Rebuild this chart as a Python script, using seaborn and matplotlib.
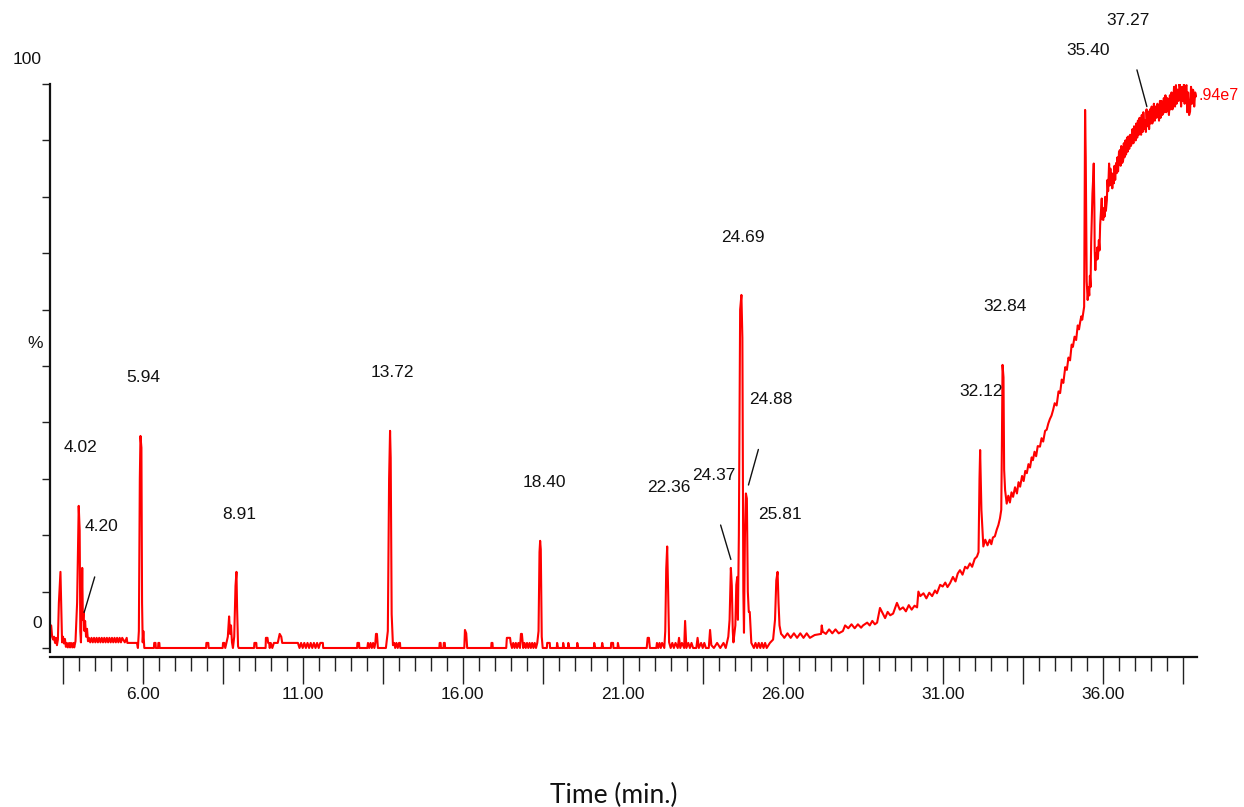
import numpy as np
import pandas as pd
import matplotlib.pyplot as plt
import seaborn as sns

# retention time (min) / relative intensity (%)
time_a = [3.10, 3.14, 3.17, 3.20, 3.23, 3.26, 3.29, 3.32, 3.35, 3.38, 3.43, 3.46, 3.48, 3.51,
          3.54, 3.57, 3.60, 3.63, 3.66, 3.70, 3.73, 3.76, 3.80, 3.83, 3.86, 3.90, 3.95, 4.00,
          4.03, 4.05, 4.07, 4.09, 4.11, 4.13, 4.15, 4.18, 4.20, 4.23, 4.26, 4.29]
int_a = [4.0, 4.0, 2.0, 1.5, 2.0, 0.9, 1.8, 0.5, 1.5, 8.0, 13.5, 6.0, 1.0, 2.0,
         0.8, 1.6, 0.2, 0.9, 0.1, 0.9, 0.1, 0.9, 0.1, 0.9, 0.1, 1.2, 8.0, 25.2,
         21.0, 3.0, 1.0, 6.0, 14.2, 5.0, 6.3, 3.0, 4.8, 2.0, 3.4, 1.2]

time_b = [4.32, 4.36, 4.40, 4.44, 4.48, 4.52, 4.56, 4.60, 4.64, 4.68, 4.72, 4.76, 4.80, 4.84,
          4.88, 4.92, 4.96, 5.00, 5.04, 5.08, 5.12, 5.16, 5.20, 5.24, 5.28, 5.32, 5.36, 5.44,
          5.50, 5.52, 5.82, 5.85, 5.88, 5.91, 5.93, 5.96, 5.98, 6.00, 6.02, 6.05]
int_b = [1.8, 1.0, 1.8, 1.0, 1.8, 1.0, 1.8, 1.0, 1.8, 1.0, 1.8, 1.0, 1.8, 1.0,
         1.8, 1.0, 1.8, 1.0, 1.8, 1.0, 1.8, 1.0, 1.8, 1.0, 1.8, 1.0, 1.8, 1.0,
         1.8, 0.9, 0.9, 0.0, 3.0, 30.0, 37.6, 35.5, 8.0, 1.0, 3.0, 0.0]

time_c = [6.35, 6.36, 6.40, 6.41, 6.48, 6.49, 6.52, 6.53, 7.98, 7.99, 8.05, 8.06, 8.50, 8.51,
          8.55, 8.58, 8.62, 8.66, 8.70, 8.73, 8.76, 8.79, 8.82, 8.86, 8.90, 8.93, 8.95, 8.98,
          9.00, 9.48, 9.49, 9.55, 9.56, 9.84, 9.85, 9.90, 9.92, 9.95, 9.97, 10.00, 10.05, 10.10,
          10.13, 10.17, 10.22, 10.28, 10.33, 10.36, 10.85, 10.90, 10.95, 11.00, 11.05, 11.10,
          11.15, 11.20, 11.25, 11.30, 11.35, 11.40, 11.45, 11.50, 11.55, 11.63, 11.64]
int_c = [0.0, 0.9, 0.9, 0.0, 0.0, 0.9, 0.9, 0.0, 0.0, 0.9, 0.9, 0.0, 0.0, 0.9,
         0.9, 0.0, 1.0, 2.0, 5.6, 2.5, 4.0, 1.0, 0.0, 2.0, 11.0, 13.5, 7.0, 0.3,
         0.0, 0.0, 0.9, 0.9, 0.0, 0.0, 1.8, 1.8, 0.9, 0.9, 0.0, 0.9, 0.0, 0.9,
         0.9, 0.9, 0.9, 2.5, 2.0, 0.9, 0.9, 0.0, 0.9, 0.0, 0.9, 0.0,
         0.9, 0.0, 0.9, 0.0, 0.9, 0.0, 0.9, 0.0, 0.9, 0.9, 0.0]

time_d = [12.70, 12.71, 12.76, 12.77, 13.02, 13.04, 13.08, 13.12, 13.16, 13.20, 13.24, 13.27,
          13.29, 13.32, 13.35, 13.60, 13.66, 13.70, 13.73, 13.75, 13.78, 13.82, 13.86, 13.89,
          13.93, 13.97, 14.01, 14.04, 14.05, 15.27, 15.28, 15.31, 15.32, 15.40, 15.41, 15.44,
          15.45, 16.05, 16.07, 16.11, 16.14, 16.89, 16.90, 16.93, 16.94, 17.36, 17.38, 17.48,
          17.50, 17.54, 17.58, 17.62, 17.66, 17.70, 17.74, 17.79, 17.82, 17.85, 17.89, 17.93,
          17.97, 18.01, 18.05, 18.09, 18.13, 18.17, 18.21, 18.25, 18.29, 18.33, 18.37, 18.40,
          18.42, 18.44, 18.47, 18.50, 18.63, 18.64, 18.72, 18.73, 18.94, 18.95, 18.98, 19.13,
          19.14, 19.17, 19.29, 19.30, 19.33, 19.57, 19.58, 19.61, 20.10, 20.11, 20.14, 20.34,
          20.36, 20.39, 20.63, 20.64, 20.70, 20.71, 20.84, 20.85, 20.88]
int_d = [0.0, 0.9, 0.9, 0.0, 0.0, 0.9, 0.0, 0.9, 0.0, 0.9, 0.0, 0.9,
         2.5, 2.5, 0.0, 0.0, 3.0, 30.0, 38.5, 33.7, 6.0, 0.5, 0.9, 0.0,
         0.9, 0.0, 0.9, 0.9, 0.0, 0.0, 0.9, 0.9, 0.0, 0.0, 0.9, 0.9,
         0.0, 0.0, 3.2, 2.6, 0.0, 0.0, 0.9, 0.9, 0.0, 0.0, 1.8, 1.8,
         0.9, 0.0, 0.9, 0.0, 0.9, 0.0, 0.9, 0.0, 2.5, 2.5, 0.0, 0.9,
         0.0, 0.9, 0.0, 0.9, 0.0, 0.9, 0.0, 0.9, 0.0, 0.9, 3.0, 17.0,
         19.0, 17.5, 2.0, 0.0, 0.0, 0.9, 0.9, 0.0, 0.0, 0.9, 0.0, 0.0,
         0.9, 0.0, 0.0, 0.9, 0.0, 0.0, 0.9, 0.0, 0.0, 0.9, 0.0, 0.0,
         0.9, 0.0, 0.0, 0.9, 0.9, 0.0, 0.0, 0.9, 0.0]

time_e = [21.75, 21.78, 21.82, 21.85, 22.05, 22.07, 22.11, 22.15, 22.19, 22.23, 22.30, 22.33,
          22.36, 22.39, 22.42, 22.45, 22.50, 22.55, 22.60, 22.65, 22.72, 22.76, 22.80, 22.85,
          22.92, 22.95, 22.99, 23.05, 23.10, 23.15, 23.20, 23.30, 23.34, 23.38, 23.45, 23.50,
          23.55, 23.60, 23.69, 23.73, 23.77, 23.85, 23.95, 24.05, 24.15, 24.22, 24.30, 24.34,
          24.38, 24.41, 24.44, 24.46, 24.52, 24.55, 24.58, 24.60, 24.63, 24.67, 24.71, 24.74,
          24.77, 24.79, 24.82, 24.85, 24.88, 24.91, 24.94, 24.97, 25.00, 25.02, 25.10, 25.15,
          25.20, 25.25, 25.30, 25.35, 25.40, 25.45, 25.50, 25.60, 25.70, 25.76, 25.80, 25.84,
          25.87, 25.90, 25.95, 26.00]
int_e = [0.0, 1.8, 1.8, 0.0, 0.0, 0.9, 0.0, 0.9, 0.0, 0.9, 0.0, 3.0,
         14.0, 18.0, 10.0, 1.0, 0.0, 0.9, 0.0, 0.9, 0.0, 1.8, 0.0, 0.9,
         0.0, 4.8, 0.0, 0.9, 0.0, 0.9, 0.0, 0.0, 1.8, 0.0, 0.9, 0.0,
         0.9, 0.0, 0.0, 3.2, 0.5, 0.0, 0.9, 0.0, 0.9, 0.0, 2.0, 5.0,
         14.2, 11.0, 3.0, 1.0, 4.0, 11.2, 12.6, 5.0, 20.0, 60.0, 62.6, 55.0,
         10.0, 2.7, 20.0, 27.4, 26.5, 10.0, 6.4, 6.4, 2.9, 0.9, 0.0, 0.9,
         0.0, 0.9, 0.0, 0.9, 0.0, 0.9, 0.0, 0.9, 1.5, 5.0, 12.0, 13.5,
         8.0, 4.0, 2.5, 2.2]

time_f = [26.05, 26.15, 26.25, 26.35, 26.45, 26.55, 26.65, 26.75, 26.85, 27.00, 27.20, 27.22,
          27.25, 27.35, 27.45, 27.55, 27.65, 27.75, 27.88, 27.95, 28.05, 28.15, 28.25, 28.35,
          28.45, 28.51, 28.64, 28.72, 28.80, 28.88, 28.95, 29.04, 29.13, 29.20, 29.28, 29.36,
          29.45, 29.57, 29.66, 29.76, 29.85, 29.94, 30.03, 30.12, 30.20, 30.24, 30.30, 30.40,
          30.49, 30.58, 30.67, 30.76, 30.82, 30.92, 31.00, 31.08, 31.15, 31.23, 31.32, 31.40,
          31.47, 31.54, 31.62, 31.70, 31.77, 31.85, 31.92, 32.00, 32.07, 32.12, 32.15, 32.17,
          32.21, 32.27, 32.33, 32.40, 32.47, 32.52, 32.57, 32.63, 32.69, 32.74, 32.79, 32.83,
          32.85, 32.87, 32.90, 32.92, 32.95, 33.00, 33.05, 33.10, 33.15, 33.20, 33.26, 33.32,
          33.37, 33.42, 33.48, 33.53, 33.58, 33.63, 33.68, 33.73, 33.78, 33.82, 33.87, 33.92,
          33.97, 34.04, 34.09, 34.14, 34.20, 34.25, 34.30, 34.35, 34.40, 34.45, 34.50, 34.56,
          34.62, 34.67, 34.72, 34.77, 34.83, 34.88, 34.93, 34.98, 35.03, 35.07, 35.12, 35.17,
          35.22, 35.26, 35.29, 35.33, 35.36, 35.39, 35.42, 35.45, 35.47]
int_f = [1.8, 2.6, 1.8, 2.6, 1.8, 2.6, 1.8, 2.6, 1.8, 2.3, 2.5, 4.0,
         2.9, 2.5, 3.3, 2.6, 3.3, 2.6, 3.0, 4.0, 3.5, 4.2, 3.5, 4.2,
         3.6, 4.0, 4.5, 4.0, 4.8, 4.2, 4.5, 7.1, 6.1, 5.3, 6.4, 5.8,
         6.1, 8.0, 6.8, 7.2, 6.5, 7.6, 6.8, 7.5, 7.2, 10.0, 9.2, 9.7,
         8.8, 9.8, 9.2, 10.2, 9.7, 11.2, 10.9, 11.6, 10.8, 11.5, 12.6, 11.8,
         13.2, 13.8, 13.0, 14.4, 14.1, 15.0, 14.4, 15.8, 16.2, 17.0, 30.0, 35.1,
         24.5, 18.0, 19.2, 18.2, 19.2, 18.4, 19.6, 19.8, 21.0, 21.8, 23.0, 24.5,
         36.0, 50.2, 48.0, 31.6, 28.0, 25.6, 27.0, 25.8, 27.6, 26.8, 28.5, 27.4,
         29.4, 28.6, 30.5, 29.6, 31.4, 31.0, 32.6, 32.0, 33.8, 33.3, 34.8, 34.0,
         35.8, 35.7, 37.2, 36.6, 38.5, 38.7, 39.8, 40.6, 41.2, 42.2, 43.4, 43.0,
         45.5, 45.2, 47.6, 47.0, 49.8, 49.3, 51.5, 51.0, 53.8, 53.4, 55.2, 54.6,
         57.2, 56.5, 57.6, 58.8, 58.2, 59.4, 60.5, 95.4, 87.0]

time_g = [35.50, 35.53, 35.56, 35.58, 35.60, 35.62, 35.64, 35.66, 35.68, 35.70, 35.72, 35.74,
          35.75, 35.77, 35.79, 35.81, 35.83, 35.85, 35.88, 35.90, 35.92, 35.94, 35.97, 35.99,
          36.02, 36.04, 36.06, 36.08, 36.10, 36.13, 36.15, 36.17, 36.20, 36.22, 36.24, 36.26,
          36.28, 36.30, 36.32, 36.35, 36.37, 36.39, 36.42, 36.44, 36.46, 36.48, 36.51, 36.54,
          36.56, 36.58, 36.61, 36.64, 36.66, 36.68, 36.71, 36.73, 36.76, 36.78, 36.80, 36.83,
          36.86, 36.88, 36.91, 36.93, 36.96, 36.98, 37.01, 37.03, 37.05, 37.08, 37.10, 37.13,
          37.15, 37.17, 37.20, 37.22, 37.25, 37.27, 37.30, 37.32, 37.35, 37.37, 37.40, 37.43,
          37.45, 37.48, 37.50, 37.53, 37.55, 37.58, 37.60, 37.63, 37.65, 37.68, 37.71, 37.74,
          37.76, 37.79, 37.81, 37.84, 37.86, 37.89, 37.91, 37.94, 37.96, 37.99, 38.02, 38.05,
          38.07, 38.10, 38.12, 38.15, 38.18, 38.21, 38.23, 38.26, 38.29, 38.31, 38.34, 38.37,
          38.40, 38.42, 38.45, 38.48, 38.51, 38.54, 38.56, 38.59, 38.62, 38.64, 38.67, 38.70,
          38.73, 38.76, 38.79, 38.81, 38.83, 38.86, 38.89, 38.92]
int_g = [65.0, 61.7, 64.0, 62.5, 66.0, 64.0, 72.0, 76.0, 80.6, 83.0, 85.9, 78.0,
         70.6, 67.0, 70.0, 68.8, 71.0, 69.0, 72.3, 70.5, 75.0, 77.0, 79.7, 76.0,
         75.9, 78.0, 76.5, 80.0, 77.5, 79.4, 83.0, 81.0, 85.9, 82.0, 85.0, 82.5,
         84.2, 81.5, 84.0, 82.4, 85.5, 83.0, 86.0, 84.2, 87.0, 84.5, 88.0, 88.3,
         85.5, 89.0, 86.0, 86.5, 89.5, 87.0, 90.0, 87.5, 90.5, 88.0, 90.7, 88.5,
         91.0, 89.0, 89.5, 92.0, 89.5, 92.5, 91.5, 90.0, 93.0, 90.5, 93.5, 91.0,
         94.0, 93.0, 91.0, 94.5, 91.5, 95.0, 92.0, 93.6, 91.5, 95.5, 92.5, 95.1,
         92.0, 95.5, 93.0, 96.0, 93.0, 93.9, 96.5, 93.5, 96.0, 94.0, 96.5, 95.1,
         93.5, 97.0, 94.0, 97.0, 94.5, 94.8, 97.5, 95.0, 98.0, 95.0, 97.5, 96.9,
         94.5, 98.0, 95.5, 98.5, 95.5, 97.5, 99.5, 96.0, 99.8, 96.5, 99.0, 97.0,
         100.0, 99.2, 96.0, 99.5, 97.0, 100.0, 96.5, 99.5, 99.8, 95.0, 98.5, 94.5,
         95.1, 99.5, 96.5, 99.0, 98.9, 96.0, 98.5, 97.8]

# peak labels: text, label position (time, %)
peak_labels = ["4.02", "4.20", "5.94", "8.91", "13.72", "18.40", "22.36", "24.37",
               "24.69", "24.88", "25.81", "32.12", "32.84", "35.40", "37.27"]
label_t = [4.07, 4.70, 6.01, 9.01, 13.79, 18.54, 22.45, 23.86,
           24.76, 25.63, 25.92, 32.20, 32.95, 35.54, 36.79]
label_i = [35.5, 21.5, 47.9, 23.6, 48.8, 29.4, 28.4, 30.5,
           72.7, 44.1, 23.6, 45.4, 60.5, 105.9, 111.3]

# leader lines (t0, i0, t1, i1)
leaders = [(4.50, 12.6, 4.17, 6.3), (24.06, 21.8, 24.38, 15.7),
           (25.24, 35.2, 24.93, 28.9), (37.07, 102.5, 37.38, 96.0)]

df = pd.DataFrame({
    "time": time_a + time_b + time_c + time_d + time_e + time_f + time_g,
    "intensity": int_a + int_b + int_c + int_d + int_e + int_f + int_g,
})

W, H = 1244, 807
sns.set_style("ticks")
plt.rcParams["font.family"] = ["Liberation Sans", "DejaVu Sans"]

fig = plt.figure(figsize=(W / 100, H / 100), dpi=100)
ax = fig.add_axes([50 / W, 1 - 652 / H, (1197 - 50) / W, (652 - 84) / H])

sns.lineplot(data=df, x="time", y="intensity", ax=ax, color="#ff0000",
             linewidth=1.5, estimator=None, sort=False)

ax.set_xlim(3.103, 38.947)
ax.set_ylim(-0.71, 100)

for s in ["top", "right"]:
    ax.spines[s].set_visible(False)
ax.spines["left"].set_linewidth(1.6)
ax.spines["left"].set_color("#111111")
ax.spines["bottom"].set_linewidth(1.6)
ax.spines["bottom"].set_color("#111111")
ax.spines["bottom"].set_position(("outward", 3.6))

ax.set_yticks(np.arange(0, 101, 10))
ax.tick_params(axis="y", left=True, length=6, width=1.0, color="#222222",
               labelleft=False)

major = np.arange(3.5, 38.6, 2.5)
major_labels = [f"{t:.2f}" if abs((t - 6) % 5) < 1e-6 else "" for t in major]
ax.set_xticks(major)
ax.set_xticklabels(major_labels)
ax.set_xticks(np.arange(3.5, 38.6, 0.5), minor=True)
ax.tick_params(axis="x", which="major", bottom=True, length=19.5, width=1.0,
               color="#222222", labelsize=12.5, pad=2, labelcolor="#111111")
ax.tick_params(axis="x", which="minor", bottom=True, length=10, width=1.0,
               color="#222222")
ax.set_xlabel("")
ax.set_ylabel("")

for txt, t, i in zip(peak_labels, label_t, label_i):
    ax.text(t, i, txt, ha="center", va="center", fontsize=12.5, color="#111111",
            clip_on=False)
for t0, i0, t1, i1 in leaders:
    ax.plot([t0, t1], [i0, i1], color="#111111", linewidth=1.0, clip_on=False)

def px(x, y):
    return x / W, 1 - y / H

fig.text(*px(27, 60), "100", ha="center", va="center", fontsize=12.5, color="#111111")
fig.text(*px(35, 343), "%", ha="center", va="center", fontsize=12.5, color="#111111")
fig.text(*px(37, 623), "0", ha="center", va="center", fontsize=12.5, color="#111111")
fig.text(*px(1199, 96), ".94e7", ha="left", va="center", fontsize=11.5, color="#ff0000")
fig.text(*px(614, 795), "Time (min.)", ha="center", va="center", fontsize=19,
         color="#111111", family=["Lato", "DejaVu Sans"])

fig.savefig("out.png", dpi=100)
